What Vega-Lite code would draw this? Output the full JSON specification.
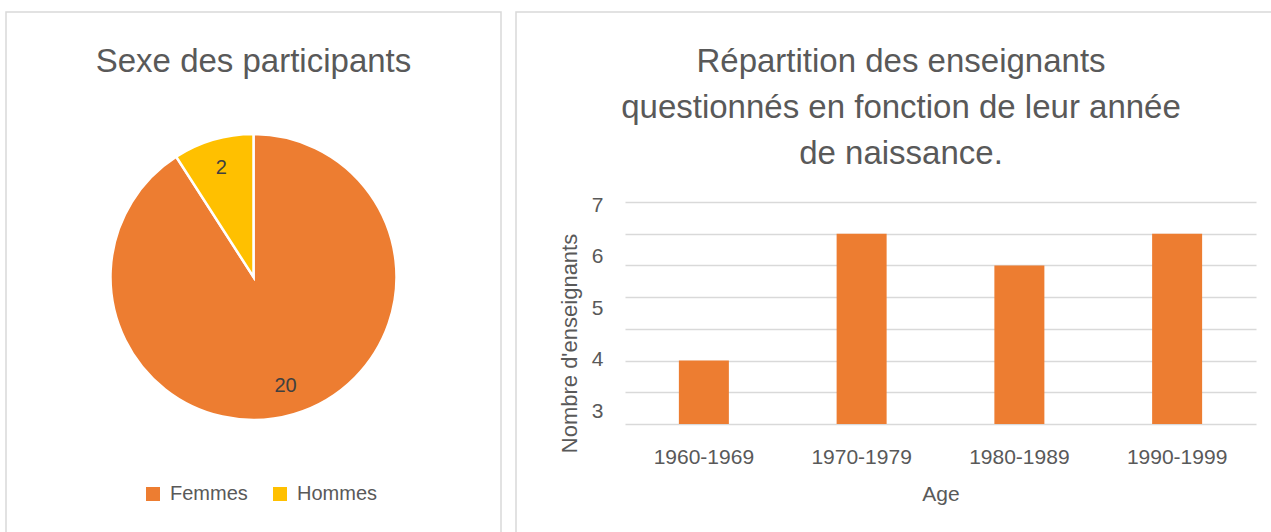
{
  "$schema": "https://vega.github.io/schema/vega-lite/v6.json",
  "background": "white",
  "padding": {"left": 5, "top": 11, "right": 0, "bottom": 0},
  "config": {
    "font": "Liberation Sans",
    "view": {"stroke": "#d9d9d9", "strokeWidth": 1.5},
    "title": {"color": "#595959", "fontWeight": "normal", "fontSize": 33, "font": "Liberation Sans"},
    "axis": {"labelFont": "Liberation Sans", "titleFont": "Liberation Sans"}
  },
  "datasets": {
    "sexe": [
      {"sexe": "Femmes", "n": 20},
      {"sexe": "Hommes", "n": 2}
    ],
    "age": [
      {"age": "1960-1969", "n": 2},
      {"age": "1970-1979", "n": 6},
      {"age": "1980-1989", "n": 5},
      {"age": "1990-1999", "n": 6}
    ]
  },
  "hconcat": [
    {
      "width": 495,
      "height": 530,
      "view": {"stroke": "#d9d9d9", "strokeWidth": 1.5},
      "title": {"text": "Sexe des participants", "anchor": "middle", "frame": "group", "offset": -67},
      "data": {"name": "sexe"},
      "layer": [
        {
          "mark": {"type": "arc", "outerRadius": 143, "stroke": "white", "strokeWidth": 2.5},
          "encoding": {
            "theta": {"field": "n", "type": "quantitative", "stack": true},
            "order": {"field": "sexe", "sort": "ascending"},
            "color": {
              "field": "sexe",
              "type": "nominal",
              "scale": {"domain": ["Femmes", "Hommes"], "range": ["#ED7D31", "#FFC000"]},
              "legend": {
                "orient": "none",
                "legendX": 137,
                "legendY": 472,
                "direction": "horizontal",
                "title": null,
                "symbolType": "square",
                "symbolSize": 196,
                "symbolStrokeWidth": 0,
                "labelFontSize": 20,
                "labelColor": "#595959",
                "labelFont": "Liberation Sans",
                "labelOffset": 7,
                "columnPadding": 22,
                "padding": 0
              }
            }
          }
        },
        {
          "mark": {"type": "text", "radius": 114, "fontSize": 20, "color": "#404040"},
          "encoding": {
            "theta": {"field": "n", "type": "quantitative", "stack": true},
            "order": {"field": "sexe", "sort": "ascending"},
            "detail": {"field": "sexe", "type": "nominal"},
            "text": {"field": "n", "type": "quantitative"}
          }
        }
      ]
    },
    {
      "width": 770,
      "height": 530,
      "title": {
        "text": ["Répartition des enseignants", "questionnés en fonction de leur année", "de naissance."],
        "anchor": "middle",
        "frame": "group",
        "lineHeight": 46,
        "offset": -159
      },
      "data": {"name": "age"},
      "layer": [
        {
          "mark": {"type": "bar", "color": "#ED7D31"},
          "encoding": {
            "x": {
              "field": "age",
              "type": "nominal",
              "sort": null,
              "scale": {"range": [109, 740], "paddingInner": 0.683, "paddingOuter": 0.3415},
              "axis": {
                "orient": "bottom",
                "offset": -118,
                "domain": false,
                "ticks": false,
                "tickSize": 0,
                "labelPadding": 22,
                "labelAngle": 0,
                "labelFontSize": 21,
                "labelColor": "#595959",
                "title": "Age",
                "titleFontSize": 21,
                "titleColor": "#595959",
                "titleFontWeight": "normal",
                "titleBaseline": "alphabetic",
                "titleY": 76
              }
            },
            "y": {
              "field": "n",
              "type": "quantitative",
              "scale": {"domain": [0, 7], "range": [412, 190], "nice": false, "zero": true},
              "axis": {
                "orient": "left",
                "offset": -109,
                "values": [0, 1, 2, 3, 4, 5, 6, 7],
                "grid": true,
                "gridColor": "#d9d9d9",
                "gridWidth": 1.5,
                "labels": false,
                "ticks": false,
                "domain": false,
                "title": null
              }
            }
          }
        },
        {
          "mark": {"type": "point", "opacity": 0},
          "encoding": {
            "y": {
              "field": "n",
              "type": "quantitative",
              "scale": {"domain": [2.75, 7.06], "range": [412, 190], "nice": false, "zero": false},
              "axis": {
                "orient": "left",
                "offset": -109,
                "values": [3, 4, 5, 6, 7],
                "grid": false,
                "domain": false,
                "ticks": false,
                "tickSize": 0,
                "labelPadding": 22,
                "labelFontSize": 21,
                "labelColor": "#595959",
                "title": "Nombre d'enseignants",
                "titleFontSize": 22,
                "titleColor": "#595959",
                "titleFontWeight": "normal",
                "titleBaseline": "alphabetic",
                "titleX": -49,
                "titleY": 331
              }
            }
          }
        }
      ],
      "resolve": {"scale": {"y": "independent"}}
    }
  ],
  "spacing": 13
}
